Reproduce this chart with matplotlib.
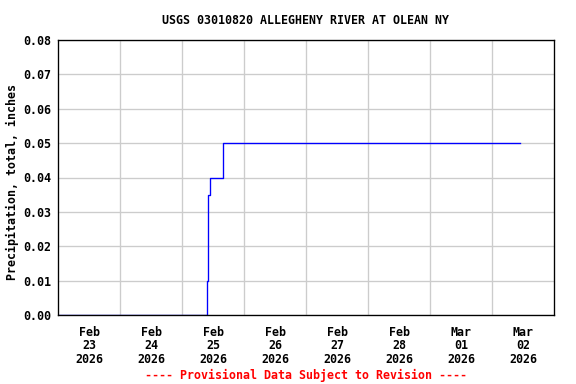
import matplotlib
matplotlib.use("Agg")
import matplotlib.pyplot as plt
import pandas as pd

title = "USGS 03010820 ALLEGHENY RIVER AT OLEAN NY"
ylabel = "Precipitation, total, inches"
footer = "---- Provisional Data Subject to Revision ----"

times = ["2026-02-23 00:00", "2026-02-25 09:45", "2026-02-25 10:00",
         "2026-02-25 10:45", "2026-02-25 16:00", "2026-03-02 10:45"]
values = [0.00, 0.01, 0.035, 0.04, 0.05, 0.05]

tick_days = ["2026-02-23", "2026-02-24", "2026-02-25", "2026-02-26",
             "2026-02-27", "2026-02-28", "2026-03-01", "2026-03-02"]
tick_labels = ["Feb\n23\n2026", "Feb\n24\n2026", "Feb\n25\n2026", "Feb\n26\n2026",
               "Feb\n27\n2026", "Feb\n28\n2026", "Mar\n01\n2026", "Mar\n02\n2026"]
yticks = [0.00, 0.01, 0.02, 0.03, 0.04, 0.05, 0.06, 0.07, 0.08]

font = "DejaVu Sans Mono"
fs = 8.7
t = pd.to_datetime(times)
days = pd.to_datetime(tick_days)

fig = plt.figure(figsize=(6, 4), dpi=96)
ax = fig.add_axes([58/576, 1 - 315/384, (554-58)/576, (315-40)/384])

ax.plot(t, values, drawstyle="steps-post", color="#0000ff", lw=1.0)

ax.set_xlim(days[0], days[-1] + pd.Timedelta(days=1))
ax.set_ylim(0, 0.08)

# labels at noon, gridlines at midnight
ax.set_xticks(days + pd.Timedelta(hours=12))
ax.set_xticklabels(tick_labels, fontfamily=font, fontweight="bold", fontsize=fs, linespacing=1.08)
ax.set_xticks(days[1:], minor=True)
ax.tick_params(axis="x", which="major", length=0, pad=8)
ax.tick_params(axis="x", which="minor", length=0)
ax.grid(True, which="minor", axis="x", color="#cccccc", lw=1)
ax.set_yticks(yticks)
ax.set_yticklabels([f"{v:.2f}" for v in yticks], fontfamily=font, fontweight="bold", fontsize=fs)
ax.tick_params(axis="y", length=0, pad=5)
ax.grid(True, which="major", axis="y", color="#cccccc", lw=1)
ax.set_axisbelow(True)
for s in ax.spines.values():
    s.set_color("black")
    s.set_linewidth(1)

fig.text(12/576, 1 - 182/384, ylabel, ha="center", va="center", rotation=90,
         fontfamily=font, fontweight="bold", fontsize=fs)
fig.text(306/576, 1 - 20/384, title, ha="center", va="center",
         fontfamily=font, fontweight="bold", fontsize=fs)
fig.text(306/576, 1 - 375/384, footer, ha="center", va="center",
         fontfamily=font, fontweight="bold", fontsize=fs, color="red")

fig.savefig("out.png", dpi=96)
